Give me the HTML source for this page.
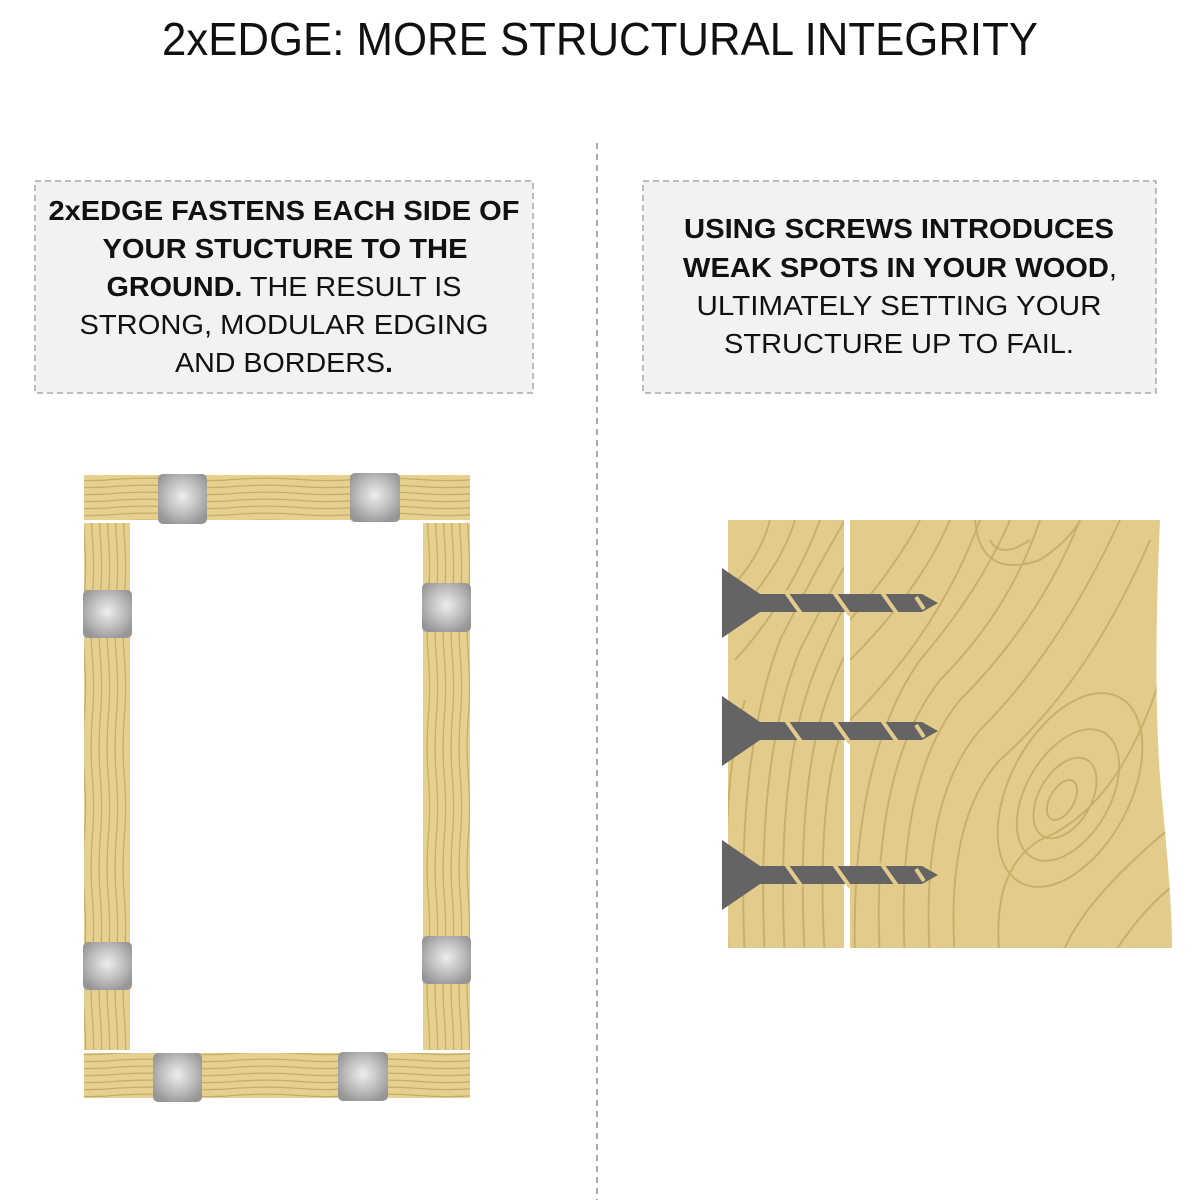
<!DOCTYPE html>
<html><head><meta charset="utf-8"><style>
html,body{margin:0;padding:0;background:#fff;width:1200px;height:1200px;overflow:hidden}
text{font-family:"Liberation Sans",sans-serif}
</style></head><body>
<svg width="1200" height="1200" viewBox="0 0 1200 1200" xmlns="http://www.w3.org/2000/svg">
<defs>
<pattern id="hg" width="120" height="7" patternUnits="userSpaceOnUse">
<rect width="120" height="7" fill="#e6d08f"/>
<path d="M0 3 Q30 1 60 3.5 T120 3" stroke="#c6ad68" stroke-width="1.3" fill="none"/>
</pattern>
<pattern id="vg" width="8" height="120" patternUnits="userSpaceOnUse">
<rect width="8" height="120" fill="#e6d08f"/>
<path d="M4 0 Q2 30 4.5 60 T4 120" stroke="#c6ad68" stroke-width="1.3" fill="none"/>
</pattern>
<radialGradient id="cl" cx="0.5" cy="0.45" r="0.6">
<stop offset="0" stop-color="#eeeeee"/><stop offset="0.6" stop-color="#bbbbbb"/><stop offset="1" stop-color="#969696"/>
</radialGradient>
<clipPath id="w1"><rect x="728" y="520" width="116" height="428"/></clipPath>
<clipPath id="w2"><path d="M850 520 L1160 520 Q1152 700 1162 800 Q1172 900 1172 948 L850 948 Z"/></clipPath>
</defs>

<text x="600" y="55" text-anchor="middle" font-size="46" fill="#111" textLength="876" lengthAdjust="spacingAndGlyphs">2xEDGE: MORE STRUCTURAL INTEGRITY</text>

<line x1="597" y1="143" x2="597" y2="1200" stroke="#aaa" stroke-width="2" stroke-dasharray="6,5"/>

<rect x="35" y="181" width="498" height="212" fill="#f2f2f2" stroke="#aaa" stroke-width="1.5" stroke-dasharray="6,4"/>
<rect x="643" y="181" width="513" height="212" fill="#f2f2f2" stroke="#aaa" stroke-width="1.5" stroke-dasharray="6,4"/>

<g font-size="28" fill="#111" text-anchor="middle">
<text x="284" y="220" font-weight="bold" textLength="471" lengthAdjust="spacingAndGlyphs">2xEDGE FASTENS EACH SIDE OF</text>
<text x="285" y="258" font-weight="bold" textLength="365" lengthAdjust="spacingAndGlyphs">YOUR STUCTURE TO THE</text>
<text x="284" y="296" textLength="355" lengthAdjust="spacingAndGlyphs"><tspan font-weight="bold">GROUND.</tspan> THE RESULT IS</text>
<text x="284" y="334" textLength="409" lengthAdjust="spacingAndGlyphs">STRONG, MODULAR EDGING</text>
<text x="284" y="372" textLength="218" lengthAdjust="spacingAndGlyphs">AND BORDERS<tspan font-weight="bold">.</tspan></text>
<text x="899" y="238" font-weight="bold" textLength="430" lengthAdjust="spacingAndGlyphs">USING SCREWS INTRODUCES</text>
<text x="900" y="277" textLength="434" lengthAdjust="spacingAndGlyphs"><tspan font-weight="bold">WEAK SPOTS IN YOUR WOOD</tspan>,</text>
<text x="899" y="315" textLength="405" lengthAdjust="spacingAndGlyphs">ULTIMATELY SETTING YOUR</text>
<text x="899" y="353" textLength="350" lengthAdjust="spacingAndGlyphs">STRUCTURE UP TO FAIL.</text>
</g>

<rect x="84" y="475" width="386" height="45" fill="url(#hg)"/>
<rect x="84" y="523" width="46" height="527" fill="url(#vg)"/>
<rect x="423" y="523" width="47" height="527" fill="url(#vg)"/>
<rect x="84" y="1053" width="386" height="45" fill="url(#hg)"/>
<g fill="url(#cl)">
<rect x="158" y="474" width="49" height="50" rx="5"/>
<rect x="350" y="473" width="50" height="49" rx="5"/>
<rect x="83" y="590" width="49" height="48" rx="5"/>
<rect x="83" y="942" width="49" height="48" rx="5"/>
<rect x="422" y="583" width="49" height="49" rx="5"/>
<rect x="422" y="936" width="49" height="48" rx="5"/>
<rect x="153" y="1053" width="49" height="49" rx="5"/>
<rect x="338" y="1052" width="50" height="49" rx="5"/>
</g>

<g clip-path="url(#w1)">
<rect x="728" y="520" width="116" height="428" fill="#e3cc8b"/>
<g stroke="#c9b06a" stroke-width="2" fill="none">
<path d="M720 600 Q760 560 770 520"/><path d="M730 620 Q780 570 795 520"/>
<path d="M735 660 Q790 600 820 520"/><path d="M745 960 Q735 760 780 640 Q810 580 845 520"/>
<path d="M765 960 Q755 760 800 650 Q830 590 860 540"/><path d="M785 960 Q775 770 815 670 Q840 610 860 580"/>
<path d="M805 960 Q795 780 830 690 Q845 650 860 630"/><path d="M825 960 Q815 800 845 720"/>
<path d="M728 960 Q720 780 745 700"/>
</g>
</g>
<g clip-path="url(#w2)">
<rect x="850" y="520" width="330" height="430" fill="#e3cc8b"/>
<g stroke="#c9b06a" stroke-width="2" fill="none">
<path d="M850 620 Q900 560 920 520"/><path d="M850 660 Q920 590 950 520"/>
<path d="M850 720 Q940 630 980 520"/><path d="M855 960 Q850 760 920 660 Q980 590 1010 520"/>
<path d="M880 960 Q870 770 940 680 Q1010 610 1040 520"/>
<path d="M905 960 Q895 780 960 700 Q1040 620 1080 520"/>
<path d="M930 960 Q920 800 980 730 Q1060 650 1120 520"/>
<path d="M955 960 Q945 820 1000 760 Q1090 680 1150 540"/>
<path d="M1000 960 Q990 870 1040 840 Q1140 800 1180 600"/>
<path d="M1060 960 Q1080 900 1180 820"/>
<path d="M1110 960 Q1140 910 1180 880"/>
<ellipse cx="1062" cy="800" rx="12" ry="22" transform="rotate(30 1062 800)"/>
<ellipse cx="1065" cy="798" rx="26" ry="44" transform="rotate(30 1065 798)"/>
<ellipse cx="1068" cy="795" rx="42" ry="72" transform="rotate(30 1068 795)"/>
<ellipse cx="1070" cy="790" rx="60" ry="105" transform="rotate(28 1070 790)"/>
<path d="M990 540 Q1000 560 1030 540"/><path d="M975 520 Q980 580 1040 560 Q1070 540 1080 520"/>
</g>
</g>

<rect x="844" y="518" width="6" height="432" fill="#fff"/>
<g fill="#646464">
<g id="s1">
<path d="M722 568 L760 594 L760 612 L722 638 Z"/>
<path d="M755 594 L922 594 L938 603 L922 612 L755 612 Z"/>
<g stroke="#e3cc8b" stroke-width="4">
<line x1="785" y1="591" x2="802" y2="615"/><line x1="833" y1="591" x2="850" y2="615"/>
<line x1="881" y1="591" x2="898" y2="615"/><line x1="916" y1="597" x2="924" y2="609"/>
</g>
</g>
<use href="#s1" y="128"/>
<use href="#s1" y="272"/>
</g>
</svg>
</body></html>
